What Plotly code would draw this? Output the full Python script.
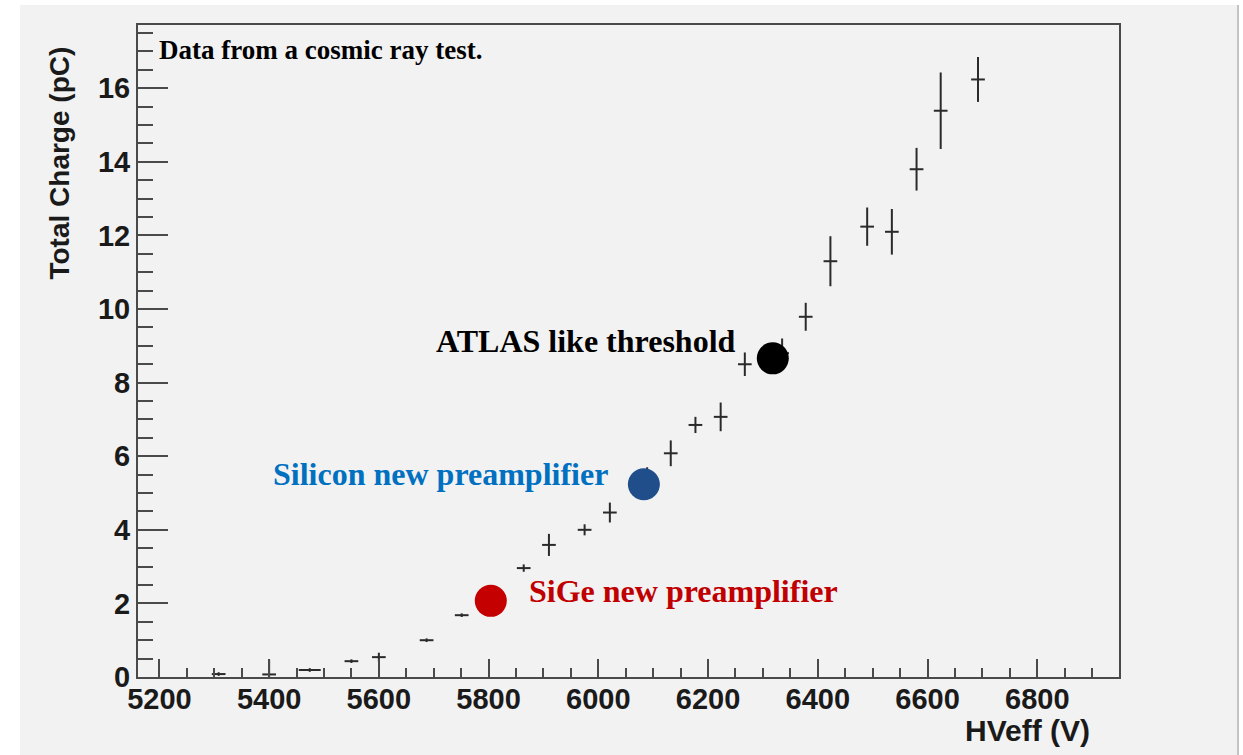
import plotly.graph_objects as go

# ---- data ----
hv = [5308, 5400, 5474, 5550, 5600, 5687, 5751, 5804, 5864, 5910, 5975, 6021, 6089,
      6132, 6177, 6223, 6267, 6335, 6378, 6423, 6490, 6535, 6580, 6624, 6692]
charge = [0.08, 0.07, 0.19, 0.43, 0.54, 1.00, 1.68, 2.07, 2.96, 3.59, 4.00, 4.47, 5.30,
          6.08, 6.85, 7.07, 8.50, 8.80, 9.79, 11.30, 12.24, 12.10, 13.80, 15.39, 16.24]
charge_err = [0.05, 0.40, 0.05, 0.05, 0.12, 0.05, 0.05, 0.10, 0.10, 0.30, 0.15, 0.27, 0.40,
              0.35, 0.22, 0.39, 0.32, 0.40, 0.38, 0.68, 0.52, 0.62, 0.58, 1.04, 0.61]
hv_err = [12.5, 12.5, 20, 12.5, 12.5, 12.5, 12.5, 12.5, 12.5, 12.5, 12.5, 12.5, 12.5,
          12.5, 12.5, 12.5, 12.5, 12.5, 12.5, 12.5, 12.5, 12.5, 12.5, 12.5, 12.5]

marker_labels = ["SiGe new preamplifier", "Silicon new preamplifier", "ATLAS like threshold"]
marker_hv = [5804, 6083, 6318]
marker_charge = [2.07, 5.24, 8.66]
marker_colors = ["#c40000", "#1f4e8a", "#000000"]
label_colors = ["#c00000", "#0070c0", "#000000"]

x_ticks = [5200, 5400, 5600, 5800, 6000, 6200, 6400, 6600, 6800]
y_ticks = [0, 2, 4, 6, 8, 10, 12, 14, 16]
x_range = [5161, 6949]
y_range = [0, 17.72]

fig = go.Figure()

fig.add_trace(go.Scatter(
    x=hv, y=charge, mode="markers",
    marker=dict(size=1, color="rgba(0,0,0,0)"),
    error_y=dict(type="data", array=charge_err, color="#2a2a2a", thickness=2, width=0),
    error_x=dict(type="data", array=hv_err, color="#2a2a2a", thickness=2, width=0),
    showlegend=False, hoverinfo="x+y",
))

fig.add_trace(go.Scatter(
    x=marker_hv, y=marker_charge, mode="markers",
    marker=dict(size=32, color=marker_colors, line=dict(width=0)),
    showlegend=False, text=marker_labels, hoverinfo="text",
))

serif = "Liberation Serif, Times New Roman, serif"
sans = "Liberation Sans, Arial, Helvetica, sans-serif"

annotations = [
    dict(x=5195.5, y=17.04, xref="x", yref="y", text="Data from a cosmic ray test.",
         showarrow=False, xanchor="left", yanchor="middle",
         font=dict(family=serif, size=27, color="#000000", weight="bold")),
    dict(x=6254.5, y=9.13, xref="x", yref="y", text=marker_labels[2],
         showarrow=False, xanchor="right", yanchor="middle",
         font=dict(family=serif, size=32, color=label_colors[2], weight="bold")),
    dict(x=6021, y=5.52, xref="x", yref="y", text=marker_labels[1],
         showarrow=False, xanchor="right", yanchor="middle",
         font=dict(family=serif, size=32, color=label_colors[1], weight="bold")),
    dict(x=5869.6, y=2.34, xref="x", yref="y", text=marker_labels[0],
         showarrow=False, xanchor="left", yanchor="middle",
         font=dict(family=serif, size=32, color=label_colors[0], weight="bold")),
    dict(x=0.9725, y=-0.0828, xref="paper", yref="paper", text="HVeff (V)",
         showarrow=False, xanchor="right", yanchor="middle",
         font=dict(family=sans, size=30, color="#1a1a1a", weight="bold")),
    dict(x=-0.0795, y=0.9693, xref="paper", yref="paper", text="Total Charge (pC)",
         showarrow=False, xanchor="center", yanchor="top", textangle=-90,
         font=dict(family=sans, size=28, color="#1a1a1a", weight="bold")),
]

shapes = [
    dict(type="rect", xref="paper", yref="paper", x0=-0.1203, x1=1.1213, y0=-0.13, y1=1.0307,
         fillcolor="#f2f2f2", line=dict(width=0), layer="below"),
    dict(type="line", xref="paper", yref="paper", x0=1.1213, x1=1.1213, y0=-0.13, y1=1.0307,
         line=dict(color="#c4c4c4", width=2), layer="below"),
]

axis_common = dict(showgrid=False, zeroline=False, showline=True, mirror=True,
                   linecolor="#4a4a4a", linewidth=2, ticks="inside", tickcolor="#4a4a4a",
                   tickwidth=1.5)

fig.update_layout(
    width=1243, height=755,
    margin=dict(l=138, r=124, t=25, b=78),
    paper_bgcolor="#ffffff", plot_bgcolor="#f2f2f2",
    annotations=annotations, shapes=shapes,
    xaxis=dict(range=x_range, tickvals=x_ticks, ticklen=18, ticklabelstandoff=-5,
               tickfont=dict(family=sans, size=29, color="#1a1a1a", weight="bold"),
               minor=dict(dtick=50, tick0=5200, ticks="inside", ticklen=9,
                          tickcolor="#4a4a4a", tickwidth=1.5),
               **axis_common),
    yaxis=dict(range=y_range, tickvals=y_ticks, ticklen=30,
               tickfont=dict(family=sans, size=29, color="#1a1a1a", weight="bold"),
               minor=dict(dtick=0.5, tick0=0, ticks="inside", ticklen=15,
                          tickcolor="#4a4a4a", tickwidth=1.5),
               **axis_common),
)

fig.write_html("out.html")
